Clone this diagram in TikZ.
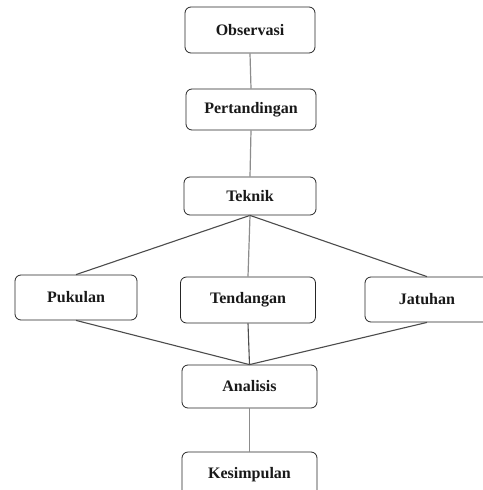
\documentclass[tikz,border=0pt]{standalone}
\usepackage{fontspec}
\setmainfont{Liberation Serif}
\begin{document}
\begin{tikzpicture}[x=1pt,y=-1pt,
  box/.style={draw=black!85, line width=0.8pt, rounded corners=6pt, fill=white,
    inner sep=0pt, font=\fontsize{16}{19}\selectfont\bfseries, text=black!90},
  vline/.style={draw=black!45, line width=1.2pt},
  dline/.style={draw=black!70, line width=1.1pt}]
\useasboundingbox[fill=white] (0,0) rectangle (482,490);
\node[box, minimum width=130pt, minimum height=46pt] (obs) at (250,30) {Observasi};
\node[box, minimum width=130pt, minimum height=41pt] (per) at (251,109.5) {Pertandingan};
\node[box, minimum width=132pt, minimum height=38pt] (tek) at (250,196) {Teknik};
\node[box, minimum width=122pt, minimum height=45pt] (puk) at (76,297.5) {Pukulan};
\node[box, minimum width=135pt, minimum height=46pt] (ten) at (248,300) {Tendangan};
\node[box, minimum width=124pt, minimum height=45pt] (jat) at (427,299.5) {Jatuhan};
\node[box, minimum width=135pt, minimum height=43pt] (ana) at (249.5,386.5) {Analisis};
\node[box, minimum width=135pt, minimum height=46pt] (kes) at (249.5,475) {Kesimpulan};
\draw[vline] (obs.south) -- (per.north);
\draw[vline] (per.south) -- (tek.north);
\draw[dline] (tek.south) -- (puk.north);
\draw[vline] (tek.south) -- (ten.north);
\draw[dline] (tek.south) -- (jat.north);
\draw[dline] (puk.south) -- (ana.north);
\draw[dline] (ten.south) -- (ana.north);
\draw[dline] (jat.south) -- (ana.north);
\draw[vline] (ana.south) -- (kes.north);
\end{tikzpicture}
\end{document}
